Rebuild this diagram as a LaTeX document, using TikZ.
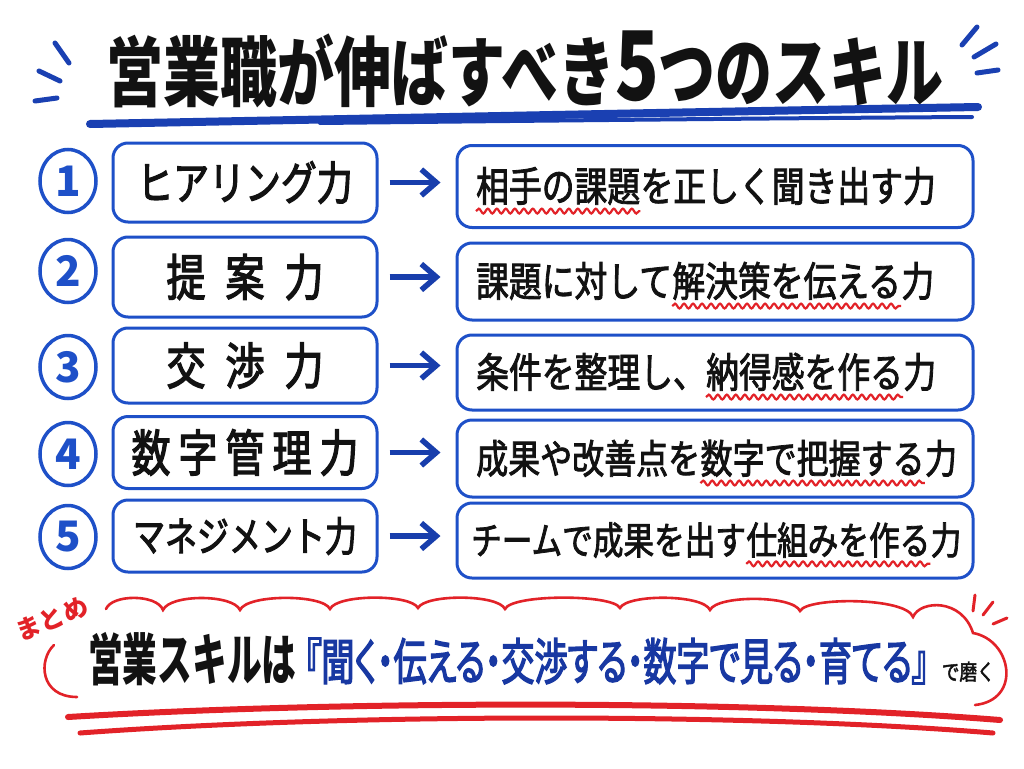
\documentclass[tikz,border=0pt]{standalone}
\usepackage{fontspec}
\usetikzlibrary{arrows.meta,shapes.geometric,decorations.pathmorphing}
\newfontfamily\jpN{Noto Sans CJK JP}
\newfontfamily\jpT[FakeStretch=0.75]{Noto Sans CJK JP}
\newfontfamily\jpL[FakeStretch=0.78,FakeBold=2.5]{Noto Sans CJK JP}
\newfontfamily\jpR[FakeStretch=0.80,FakeBold=2]{Noto Sans CJK JP}
\newfontfamily\jpS[FakeStretch=0.62]{Noto Sans CJK JP}
\newfontfamily\jpB[FakeStretch=0.66,FakeBold=2.5,RawFeature=+palt]{Noto Sans CJK JP}
\definecolor{boxblue}{RGB}{30,80,200}
\definecolor{arrblue}{RGB}{24,62,172}
\definecolor{ulblue}{RGB}{26,64,178}
\definecolor{tblue}{RGB}{24,56,162}
\definecolor{wred}{RGB}{226,34,40}
\definecolor{ink}{RGB}{18,18,18}
\tikzset{
  lbox/.style={draw=boxblue, line width=3pt, rounded corners=15pt, minimum width=264pt, inner sep=0pt, text=ink, font=\jpL\fontsize{46}{46}\selectfont},
  rbox/.style={draw=boxblue, line width=3pt, rounded corners=15pt, minimum width=516pt, inner sep=0pt},
  numc/.style={ellipse, draw=boxblue, line width=3.5pt, minimum width=56pt, minimum height=63pt, inner sep=0pt, text=boxblue, font=\jpN\bfseries\fontsize{42}{42}\selectfont},
  rt/.style={inner sep=0pt, anchor=base west, text=ink},
  rfA/.style={font=\jpR\fontsize{41}{41}\selectfont},
  rfB/.style={font=\jpR\fontsize{40}{40}\selectfont},
  rfC/.style={font=\jpR\fontsize{38.3}{38.3}\selectfont},
  wavy/.style={draw=wred, line width=2.2pt, decorate, decoration={snake, amplitude=2.4pt, segment length=9pt}},
  conn/.style={draw=arrblue, line width=5.5pt, -{Straight Barb[length=15pt,width=26pt]}, shorten <=11pt, shorten >=15pt},
  spark/.style={draw=ulblue, line width=5pt, line cap=round},
  cloudline/.style={draw=wred, line width=2.6pt, line cap=round},
  redtick/.style={draw=wred, line width=3pt, line cap=round},
  brush/.style={draw=wred, line cap=round},
}
\begin{document}
\begin{tikzpicture}[x=1pt,y=-1pt]
\fill[white] (0,0) rectangle (1024,768);
\useasboundingbox (0,0) rectangle (1024,768);

% title
\node[inner sep=0pt, anchor=base, text=ink, font=\jpT\bfseries\fontsize{76}{76}\selectfont] (title) at (525,100)
  {営業職が伸ばすべき{\fontsize{96}{96}\selectfont 5}つのスキル};
\draw[draw=ulblue, line width=8pt, line cap=round] (90,124) .. controls (400,118) and (700,112) .. (978,107);
\draw[draw=ulblue, line width=4pt, line cap=round] (320,123) .. controls (600,120) and (800,118) .. (972,117);
\draw[spark] (55,43) -- (69,63);
\draw[spark] (39,71) -- (60,81);
\draw[spark] (35,101) -- (57,98);
\draw[spark] (977,27) -- (962,45);
\draw[spark] (996,44) -- (974,57);
\draw[spark] (998,70) -- (977,73);

% numbers
\node[numc] (n1) at (68,181) {1};
\node[numc] (n2) at (68,271) {2};
\node[numc] (n3) at (68,367) {3};
\node[numc] (n4) at (68,454) {4};
\node[numc] (n5) at (68,537) {5};

% left boxes
\node[lbox, minimum height=79pt] (l1) at (245,182.5) {ヒアリング力};
\node[lbox, minimum height=80pt, font=\jpL\fontsize{50}{50}\selectfont] (l2) at (245,277) {提\hspace{20pt}案\hspace{20pt}力};
\node[lbox, minimum height=75pt, font=\jpL\fontsize{50}{50}\selectfont] (l3) at (245,365.5) {交\hspace{20pt}渉\hspace{20pt}力};
\node[lbox, minimum height=72pt, font=\jpL\fontsize{50}{50}\selectfont] (l4) at (245,452.5) {数\hspace{8pt}字\hspace{8pt}管\hspace{8pt}理\hspace{8pt}力};
\node[lbox, minimum height=72pt, font=\jpL\fontsize{41}{41}\selectfont] (l5) at (245,536) {マネジメント力};

% right boxes
\node[rbox, minimum height=82pt] (b1) at (715,186.5) {};
\node[rbox, minimum height=77pt] (b2) at (715,281.5) {};
\node[rbox, minimum height=75pt] (b3) at (715,372.5) {};
\node[rbox, minimum height=77pt] (b4) at (715,458.5) {};
\node[rbox, minimum height=75pt] (b5) at (715,540.5) {};

% arrows
\draw[conn] (l1.east) -- (l1.east -| b1.west);
\draw[conn] (l2.east) -- (l2.east -| b2.west);
\draw[conn] (l3.east) -- (l3.east -| b3.west);
\draw[conn] (l4.east) -- (l4.east -| b4.west);
\draw[conn] (l5.east) -- (l5.east -| b5.west);

% right texts
\node[rt, rfA] (t1a) at (476,201.5) {相手の課題};
\node[rt, rfA] (t1b) at (t1a.base east) {を正しく聞き出す力};
\draw[wavy] ([yshift=-6pt]t1a.south west) -- ([yshift=-6pt]t1a.south east);

\node[rt, rfA] (t2a) at (476,296.5) {課題に対して};
\node[rt, rfA] (t2b) at (t2a.base east) {解決策を伝える};
\node[rt, rfA] (t2c) at (t2b.base east) {力};
\draw[wavy] ([yshift=-6pt]t2b.south west) -- ([yshift=-6pt]t2b.south east);

\node[rt, rfA] (t3a) at (476,387.5) {条件を整理し、};
\node[rt, rfA] (t3b) at (t3a.base east) {納得感を作る};
\node[rt, rfA] (t3c) at (t3b.base east) {力};
\draw[wavy] ([yshift=-6pt]t3b.south west) -- ([yshift=-6pt]t3b.south east);

\node[rt, rfB] (t4a) at (476,473.5) {成果や改善点を};
\node[rt, rfB] (t4b) at (t4a.base east) {数字で把握する};
\node[rt, rfB] (t4c) at (t4b.base east) {力};
\draw[wavy] ([yshift=-6pt]t4b.south west) -- ([yshift=-6pt]t4b.south east);

\node[rt, rfC] (t5a) at (471,554.5) {チームで成果を出す};
\node[rt, rfC] (t5b) at (t5a.base east) {仕組みを作る};
\node[rt, rfC] (t5c) at (t5b.base east) {力};
\draw[wavy] ([yshift=-6pt]t5b.south west) -- ([yshift=-6pt]t5b.south east);

% summary cloud
\draw[cloudline] (54,645) .. controls (38,660) and (40,697) .. (77,697);
\draw[cloudline] (106,609) .. controls (112,594) and (157,594) .. (163,610)
  .. controls (170,594) and (233,594) .. (240,610)
  .. controls (247,594) and (323,594) .. (330,609)
  .. controls (337,594) and (411,594) .. (418,608)
  .. controls (425,594) and (498,594) .. (505,609)
  .. controls (512,594) and (613,594) .. (620,608)
  .. controls (627,594) and (703,594) .. (710,610)
  .. controls (717,595) and (793,595) .. (800,611)
  .. controls (807,597) and (906,597) .. (913,617)
  .. controls (920,600) and (962,598) .. (973,633)
  .. controls (1012,640) and (1022,700) .. (975,705);
\draw[redtick] (975,595) -- (973,611);
\draw[redtick] (993,602) -- (983,615);
\draw[redtick] (1007,618) -- (993,624);

\node[rotate=22, inner sep=0pt, text=wred, font=\jpN\bfseries\fontsize{25}{25}\selectfont] (mt) at (52,619) {まとめ};

\node[rt, font=\jpS\bfseries\fontsize{56}{56}\selectfont] (s1) at (88,680) {営業スキルは};
\node[rt, text=tblue, font=\jpB\fontsize{50}{50}\selectfont] (s2) at ([xshift=8pt]s1.base east) {『聞く・伝える・交渉する・数字で見る・育てる』};
\node[rt, font=\jpR\fontsize{22}{22}\selectfont] (s3) at ([xshift=13pt]s2.base east) {で磨く};

\draw[brush, line width=6pt] (68,717) .. controls (350,700) and (750,700) .. (1000,720);
\draw[brush, line width=5pt] (80,733) .. controls (350,713) and (750,713) .. (993,733);
\end{tikzpicture}
\end{document}
